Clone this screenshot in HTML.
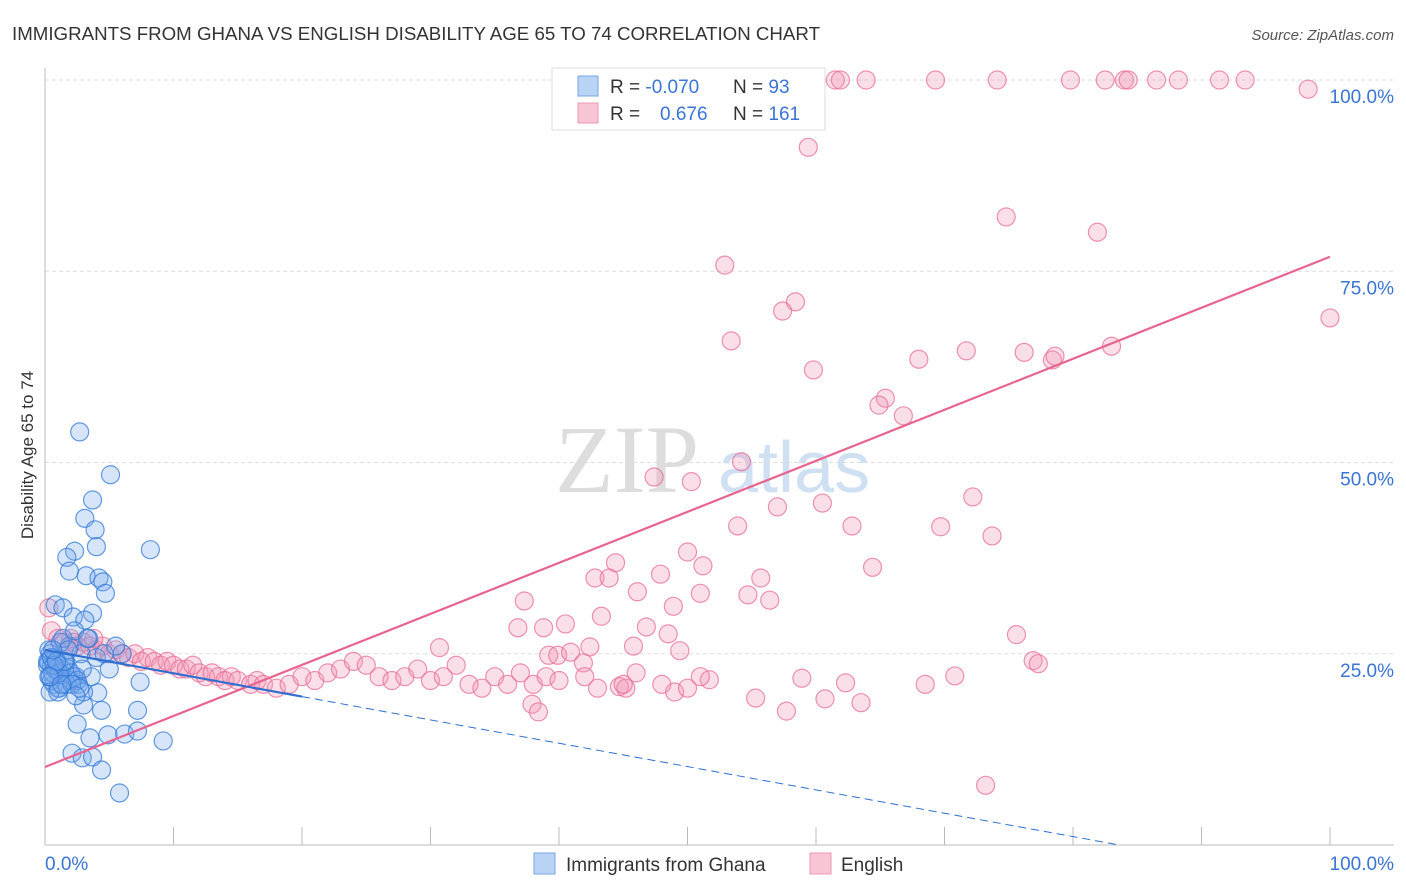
<!DOCTYPE html>
<html><head><meta charset="utf-8"><style>
body{margin:0;background:#fff;font-family:"Liberation Sans",sans-serif;}
#wrap{position:relative;width:1406px;height:892px;overflow:hidden}
</style></head><body><div id="wrap">
<svg id="svg" width="1406" height="892">
<text x="12" y="40" font-size="18" fill="#333" textLength="808" lengthAdjust="spacingAndGlyphs">IMMIGRANTS FROM GHANA VS ENGLISH DISABILITY AGE 65 TO 74 CORRELATION CHART</text>
<text x="1394" y="40" font-size="15" fill="#555" font-style="italic" text-anchor="end">Source: ZipAtlas.com</text>
<text transform="translate(33,455) rotate(-90)" font-size="17" fill="#333" text-anchor="middle">Disability Age 65 to 74</text>
<text x="555" y="492" font-size="96" fill="#ddd" font-family="Liberation Serif">ZIP</text>
<text x="718" y="492" font-size="72" fill="#cfe0f3">atlas</text>
<g id="grid"></g><g id="marks"></g>
<g>
<rect x="552" y="68" width="273" height="62" fill="#fff" stroke="#ddd"/>
<rect x="578" y="76" width="20" height="20" fill="#b9d3f5" stroke="#7aa6e6"/>
<rect x="578" y="103" width="20" height="20" fill="#f7c5d3" stroke="#ec98b1"/>
<text x="610" y="93" font-size="19" fill="#333">R = <tspan fill="#3a74d4">-0.070</tspan></text>
<text x="733" y="93" font-size="19" fill="#333">N = <tspan fill="#3a74d4"> 93</tspan></text>
<text x="610" y="120" font-size="19" fill="#333">R = <tspan fill="#3a74d4" x="660">0.676</tspan></text>
<text x="733" y="120" font-size="19" fill="#333">N = <tspan fill="#3a74d4">161</tspan></text>
</g>
<g>
<rect x="534" y="853" width="21" height="21" fill="#b9d3f5" stroke="#7aa6e6"/>
<text x="566" y="871" font-size="19" fill="#333">Immigrants from Ghana</text>
<rect x="810" y="853" width="21" height="21" fill="#f7c5d3" stroke="#ec98b1"/>
<text x="841" y="871" font-size="19" fill="#333">English</text>
</g>
</svg></div>
<script>
const yTicks=[25,50,75,100];
const yTickLabels=["25.0%","50.0%","75.0%","100.0%"];
const blueX=[2.7,5.1,3.7,3.1,3.9,4.0,2.3,1.7,8.2,1.9,3.2,4.2,4.5,4.7,0.8,1.4,3.7,2.2,3.1,7.4,7.2,2.5,3.5,4.9,6.2,7.2,9.2,2.1,2.9,3.7,4.4,5.8,4.4,3.0,4.1,0.3,0.5,0.8,1.0,1.2,0.4,0.6,1.5,1.8,2.0,2.4,0.2,0.7,1.1,1.6,2.6,3.0,0.3,0.9,1.3,2.2,0.5,1.0,1.9,2.8,3.4,0.4,1.2,2.0,4.0,5.0,6.0,0.6,1.4,2.3,0.2,0.8,1.7,3.6,0.5,1.1,2.5,1.5,2.9,0.7,3.3,4.6,1.0,2.1,0.3,0.9,1.8,0.4,1.3,2.7,5.5,0.6,2.4];
const blueY=[54,48.4,45.1,42.7,41.2,39.0,38.4,37.6,38.6,35.8,35.2,34.9,34.4,32.9,31.4,31.0,30.3,29.8,29.4,21.3,17.6,15.8,14.0,14.4,14.5,14.9,13.6,12.0,11.4,11.5,9.8,6.8,17.6,18.3,19.9,24,23.5,24.5,23,22.5,25,22,24,23,21.5,22,23.5,21,20.5,24,21,20,25.5,24,23,22,21.5,20.5,26,25,27,20,26.5,22.5,24.5,23,25,22.5,27,28,24,23,21,22,24.5,22.5,21.5,24,23,23.5,27,25,20,21,22,24,25.5,22,21,20.5,26,25.5,19.5];
const pinkX=[61.5,61.9,63.9,69.3,74.1,79.8,82.5,84.0,84.3,86.5,88.2,91.4,93.4,52.3,98.3,59.4,74.8,81.9,52.9,58.4,57.4,100,53.4,71.7,76.2,68.0,78.4,78.6,83.0,59.8,65.4,64.9,66.8,54.2,47.4,50.3,72.2,60.5,57.0,53.9,62.8,69.7,73.7,50.0,44.4,51.2,64.4,47.9,42.8,43.9,55.7,46.1,51.0,54.7,56.4,37.3,48.9,43.3,46.8,36.8,38.8,40.5,48.5,75.6,45.8,42.4,49.4,39.2,39.9,40.9,76.9,77.3,30.7,41.9,51.7,58.9,62.3,68.5,70.8,55.3,60.7,63.5,57.7,37.9,38.4,44.7,45.2,73.2,
0.5,1,1.5,2,2.5,3,3.5,4,4.5,5,5.5,6,6.5,7,7.5,8,8.5,9,9.5,10,10.5,11,11.5,12,12.5,13,13.5,14,14.5,15,16,16.5,17,18,19,20,21,22,23,24,25,26,27,28,29,30,31,32,33,34,35,36,37,38,39,40,42,43,45,46,48,49,50,51,0.3,2.2,3.8];
const pinkY=[100,100,100,100,100,100,100,100,100,100,100,100,100,100,98.8,91.2,82.1,80.1,75.8,71.0,69.8,68.9,65.9,64.6,64.4,63.5,63.4,63.9,65.2,62.1,58.4,57.5,56.1,50.1,48.1,47.5,45.5,44.7,44.2,41.7,41.7,41.6,40.4,38.3,36.9,36.5,36.3,35.4,34.9,34.9,34.9,33.1,32.9,32.7,32.0,31.9,31.2,29.9,28.5,28.4,28.4,28.9,27.6,27.5,26.0,25.9,25.4,24.8,24.8,25.2,24.1,23.7,25.8,23.8,21.6,21.8,21.2,21.0,22.1,19.2,19.1,18.6,17.5,18.4,17.4,20.7,20.5,7.8,
28,27,26.5,27,26,26.5,26,25.5,26,25,25.5,25,24.5,25,24,24.5,24,23.5,24,23.5,23,23,23.5,22.5,22,22.5,22,21.5,22,21.5,21,21.5,21,20.5,21,22,21.5,22.5,23,24,23.5,22,21.5,22,23,21.5,22,23.5,21,20.5,22,21,22.5,21,22,21.5,22,20.5,21,22.5,21,20,20.5,22,31,26.5,27];
const pinkTrend=[10.2,76.9];
const blueTrend=[25.5,-0.305];
const X=v=>45+v*12.85, Y=v=>845-v*7.65;
const NS="http://www.w3.org/2000/svg";
const grid=document.getElementById('grid'), marks=document.getElementById('marks');
function mk(tag,attrs,parent){const e=document.createElementNS(NS,tag);for(const k in attrs)e.setAttribute(k,attrs[k]);parent.appendChild(e);return e;}
yTicks.forEach((t,i)=>{
 const l=mk('line',{x1:45,x2:1394,y1:Y(t),y2:Y(t),stroke:'#ddd','stroke-dasharray':'4,3'},grid);
 
 
 const tx=mk('text',{x:1394,y:Y(t)+23,'font-size':19,fill:'#3a74d4','text-anchor':'end'},grid);
 tx.textContent=yTickLabels[i];
 
 
});
const ax=mk('line',{x1:45,x2:45,y1:68,y2:845,stroke:'#bbb'},grid);


const bx=mk('line',{x1:45,x2:1394,y1:845,y2:845,stroke:'#bbb'},grid);


for(let i=0;i<=10;i++){const v=i*10;const tk=mk('line',{x1:X(v),x2:X(v),y1:827,y2:845,stroke:'#bbb'},grid);
 
 }
[["0.0%",45,'start'],["100.0%",1394,'end']].forEach(a=>{const t=mk('text',{x:a[1],y:870,'font-size':19,fill:'#3a74d4','text-anchor':a[2]},grid);t.textContent=a[0];
 
 });
pinkX.forEach((x,i)=>{const c=mk('circle',{cx:X(x),cy:Y(pinkY[i]),r:9,fill:'rgba(242,150,180,0.3)',stroke:'rgba(232,110,150,0.75)','stroke-width':1.2},marks);
 
 });
blueX.forEach((x,i)=>{const c=mk('circle',{cx:X(x),cy:Y(blueY[i]),r:9,fill:'rgba(120,170,235,0.3)',stroke:'rgba(50,120,215,0.75)','stroke-width':1.2},marks);
 
 });
const pl=mk('line',{x1:X(0),y1:Y(pinkTrend[0]),x2:X(100),y2:Y(pinkTrend[1]),stroke:'#e8648f','stroke-width':2.2},marks);


const bl=mk('line',{x1:X(0),y1:Y(blueTrend[0]),x2:X(20),y2:Y(blueTrend[0]+blueTrend[1]*20),stroke:'#2f6fd0','stroke-width':2.2},marks);


const xEnd=-blueTrend[0]/blueTrend[1];
const bd=mk('line',{x1:X(20),y1:Y(blueTrend[0]+blueTrend[1]*20),x2:X(xEnd),y2:Y(0),stroke:'#2f6fd0','stroke-width':1,'stroke-dasharray':'8,5'},marks);


</script></body></html>
